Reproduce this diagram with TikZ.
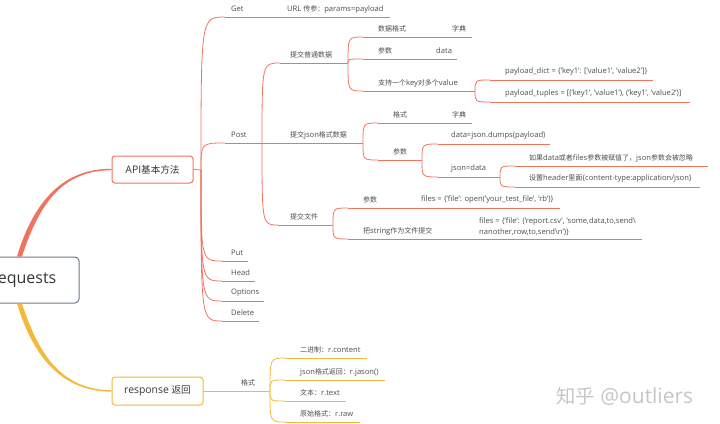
\documentclass[tikz,border=0pt]{standalone}
\usepackage{fontspec}
\setmainfont{Open Sans}
\newfontfamily\cjk{Noto Sans CJK SC}[Scale=0.92]
\usetikzlibrary{calc}

\definecolor{redc}{HTML}{F0735F}
\definecolor{orgc}{HTML}{F5B83D}
\definecolor{rootc}{HTML}{6C7B8E}
\definecolor{txtc}{HTML}{4D4D4D}

\tikzset{
  lbl/.style={font=\fontsize{7.6}{11}\selectfont, text=txtc, anchor=west, inner sep=0pt, align=left},
  rl/.style={draw=redc, line width=0.8pt},
  ol/.style={draw=orgc, line width=0.8pt},
  box/.style={rounded corners=3pt, line width=1pt, fill=white, minimum height=27pt,
              font=\fontsize{10.4}{12}\selectfont, text=txtc!70!black},
}

% topic: style, name, line x1, line x2, line y, label x, text
\newcommand{\topic}[7]{%
  \coordinate (#2L) at (#3,#5);
  \coordinate (#2R) at (#4,#5);
  \draw[#1] (#2L) -- (#2R);
  \node[lbl] (#2) at (#6,#5-8) {#7};
}
% link: style, branch point, child topic
\newcommand{\link}[3]{\draw[#1] (#2) .. controls (#2 |- #3L) .. (#3L);}

\begin{document}
\begin{tikzpicture}[x=1pt, y=-1pt]
  \useasboundingbox (0,0) rectangle (720,423);

  % Hauptknoten
  \node[box, draw=rootc, minimum width=110pt, minimum height=46pt, rounded corners=4pt,
        font=\fontsize{16}{18}\selectfont] (root) at (24,280) {requests};
  \node[box, draw=redc, minimum width=81pt] (api) at (152.5,169.5) {API{\cjk 基本方法}};
  \node[box, draw=orgc, minimum width=91pt, minimum height=28pt] (resp) at (157.5,391) {response {\cjk 返回}};

  % dicke Äste
  \fill[redc] ($(root.north)+(-7,0)$) .. controls (34,200) and (64,168.5) .. ($(api.west)+(0,-0.7)$)
        -- ($(api.west)+(0,0.7)$) .. controls (64,170.5) and (40,201) .. ($(root.north)+(-2,0)$) -- cycle;
  \fill[orgc] ($(root.south)+(-7,0)$) .. controls (34,360) and (64,391.5) .. ($(resp.west)+(0,0.7)$)
        -- ($(resp.west)+(0,-0.7)$) .. controls (64,389.5) and (40,359) .. ($(root.south)+(-2,0)$) -- cycle;

  % API Methoden
  \coordinate (apiB) at (201,170);
  \draw[rl] (api.east) -- (apiB);
  \topic{rl}{get}{225}{272}{17}{231}{Get}
  \topic{rl}{url}{272}{390}{17}{287}{URL {\cjk 传参：}params=payload}
  \topic{rl}{post}{225}{262}{143}{231}{Post}
  \topic{rl}{put}{222}{248}{261}{231}{Put}
  \topic{rl}{head}{222}{255}{281}{231}{Head}
  \topic{rl}{opt}{222}{264}{301}{231}{Options}
  \topic{rl}{del}{222}{259}{321}{231}{Delete}
  \foreach \c in {get,post,put,head,opt,del} {\link{rl}{apiB}{\c}}

  % Post
  \topic{rl}{pt}{280}{348}{63}{290}{\cjk 提交普通数据}
  \topic{rl}{js}{262}{363}{143}{290}{{\cjk 提交}json{\cjk 格式数据}}
  \topic{rl}{file}{278}{333}{225}{290}{\cjk 提交文件}
  \foreach \c in {pt,js,file} {\link{rl}{postR}{\c}}

  % Post -> 提交普通数据
  \topic{rl}{ptfmt}{363}{440}{37}{378}{\cjk 数据格式}
  \topic{rl}{ptdict}{440}{472}{37}{452}{\cjk 字典}
  \topic{rl}{ptarg}{363}{425}{59}{378}{\cjk 参数}
  \topic{rl}{ptdata}{425}{457}{59}{436}{data}
  \topic{rl}{kv}{363}{475}{91}{378}{{\cjk 支持一个}key{\cjk 对多个}value}
  \foreach \c in {ptfmt,ptarg,kv} {\link{rl}{ptR}{\c}}
  \topic{rl}{kvd}{490}{653}{80}{505}{payload\_dict = \{'key1': ['value1', 'value2']\}}
  \topic{rl}{kvt}{490}{690}{102}{505}{payload\_tuples = [('key1', 'value1'), ('key1', 'value2')]}
  \foreach \c in {kvd,kvt} {\link{rl}{kvR}{\c}}

  % Post -> 提交json格式数据
  \topic{rl}{jsfmt}{378}{440}{123}{393}{\cjk 格式}
  \topic{rl}{jsdict}{440}{472}{123}{452}{\cjk 字典}
  \topic{rl}{jsarg}{378}{422}{160}{393}{\cjk 参数}
  \foreach \c in {jsfmt,jsarg} {\link{rl}{jsR}{\c}}
  \topic{rl}{dump}{438}{550}{144}{451}{data=json.dumps(payload)}
  \topic{rl}{jd}{438}{500}{177}{451}{json=data}
  \foreach \c in {dump,jd} {\link{rl}{jsargR}{\c}}
  \topic{rl}{ign}{515}{708}{166}{529}{{\cjk 如果}data{\cjk 或者}files{\cjk 参数被赋值了，}json{\cjk 参数会被忽略}}
  \topic{rl}{hdr}{515}{700}{187}{529}{{\cjk 设置}header{\cjk 里面}\{content-type:application/json\}}
  \foreach \c in {ign,hdr} {\link{rl}{jdR}{\c}}

  % Post -> 提交文件
  \topic{rl}{farg}{348}{410}{208}{363}{\cjk 参数}
  \topic{rl}{fopen}{410}{560}{208}{421}{files = \{'file': open('your\_test\_file', 'rb')\}}
  \topic{rl}{fstr}{348}{470}{239}{363}{{\cjk 把}string{\cjk 作为文件提交}}
  \coordinate (fcsvL) at (470,239);
  \coordinate (fcsvR) at (642,239);
  \draw[rl] (fcsvL) -- (fcsvR);
  \node[lbl] (fcsv) at (479,226.5) {files = \{'file': ('report.csv', 'some,data,to,send\textbackslash\\nanother,row,to,send\textbackslash n')\}};
  \foreach \c in {farg,fstr} {\link{rl}{fileR}{\c}}

  % response
  \topic{ol}{fmt}{203}{270}{391}{241}{\cjk 格式}
  \topic{ol}{bin}{285}{367}{358}{300}{{\cjk 二进制：}r.content}
  \topic{ol}{rjs}{285}{385}{380}{300}{json{\cjk 格式返回：}r.jason()}
  \topic{ol}{txt}{285}{346}{401}{300}{{\cjk 文本：}r.text}
  \topic{ol}{raw}{285}{360}{422}{300}{{\cjk 原始格式：}r.raw}
  \foreach \c in {bin,rjs,txt,raw} {\link{ol}{fmtR}{\c}}

  % Wasserzeichen
  \node[anchor=west, inner sep=0pt, font=\fontsize{21}{24}\selectfont, text=gray!45] (mark) at (556,396) {{\cjk 知乎} @outliers};
\end{tikzpicture}
\end{document}
